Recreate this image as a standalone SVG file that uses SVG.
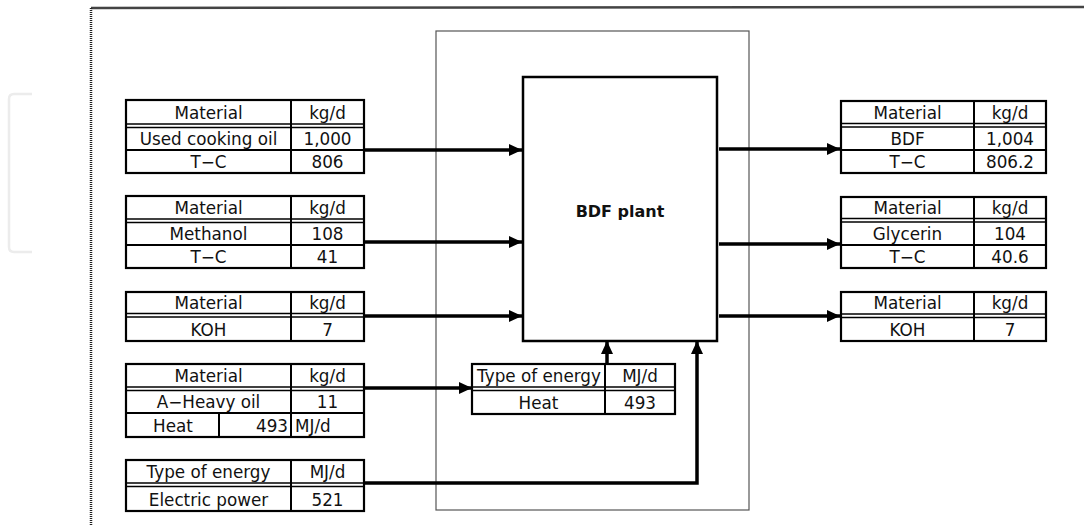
<svg xmlns="http://www.w3.org/2000/svg" width="1084" height="526" viewBox="0 0 1084 526">
<style>
  .bg{fill:#fff}
  .tb{fill:#fff;stroke:#000;stroke-width:2.2}
  .ln{stroke:#000;stroke-width:2}
  .dl{stroke:#000;stroke-width:1.3}
  .t{font-family:"DejaVu Sans","Liberation Sans",sans-serif;font-size:16.8px;fill:#111;text-anchor:middle}
  .conn{stroke:#000;stroke-width:3.5;fill:none}
</style>
<defs>
  <marker id="ah" markerUnits="userSpaceOnUse" markerWidth="14" markerHeight="12" refX="13" refY="6" orient="auto">
    <path d="M0,0 L13,6 L0,12 z" fill="#000"/>
  </marker>
</defs>
<rect class="bg" x="0" y="0" width="1084" height="526"/>

<!-- frame decorations -->
<g id="frame">
  <path d="M32,94 L14,94 Q9,94 9,99 L9,247 Q9,252 14,252 L32,252" fill="none" stroke="#ececec" stroke-width="2.5"/>
  <line x1="91" y1="8" x2="1084" y2="7" stroke="#444" stroke-width="2.5"/>
  <line x1="91" y1="8" x2="91" y2="526" stroke="#222" stroke-width="2.5" stroke-dasharray="1 1"/>
  <rect x="436" y="31" width="313" height="479" fill="none" stroke="#555" stroke-width="1.2"/>
</g>

<!-- plant -->
<g id="plant">
  <rect x="523" y="77" width="194" height="264" fill="#fff" stroke="#000" stroke-width="2.5"/>
  <text x="620" y="217" font-family="DejaVu Sans, Liberation Sans, sans-serif" font-size="16" font-weight="bold" fill="#111" text-anchor="middle">BDF plant</text>
</g>

<!-- connectors -->
<g id="connectors">
  <line class="conn" x1="364" y1="150" x2="522" y2="150" marker-end="url(#ah)"/>
  <line class="conn" x1="364" y1="242" x2="522" y2="242" marker-end="url(#ah)"/>
  <line class="conn" x1="364" y1="316" x2="522" y2="316" marker-end="url(#ah)"/>
  <line class="conn" x1="364" y1="388" x2="472" y2="388" marker-end="url(#ah)"/>
  <line class="conn" x1="607" y1="364" x2="607" y2="341" marker-end="url(#ah)"/>
  <polyline class="conn" points="364,483 697,483 697,341" marker-end="url(#ah)"/>
  <line class="conn" x1="719" y1="149" x2="840" y2="149" marker-end="url(#ah)"/>
  <line class="conn" x1="719" y1="244" x2="840" y2="244" marker-end="url(#ah)"/>
  <line class="conn" x1="719" y1="316" x2="840" y2="316" marker-end="url(#ah)"/>
</g>

<!-- left table 1 -->
<g id="in-oil">
  <rect class="tb" x="126" y="100" width="238" height="73"/>
  <line class="dl" x1="126" y1="124" x2="364" y2="124"/>
  <line class="dl" x1="126" y1="127.5" x2="364" y2="127.5"/>
  <line class="ln" x1="126" y1="150" x2="364" y2="150"/>
  <line class="ln" x1="291" y1="100" x2="291" y2="173"/>
  <text class="t" x="208.5" y="119">Material</text><text class="t" x="327.5" y="119">kg/d</text>
  <text class="t" x="208.5" y="145">Used cooking oil</text><text class="t" x="327.5" y="145">1,000</text>
  <text class="t" x="208.5" y="168">T−C</text><text class="t" x="327.5" y="168">806</text>
</g>

<!-- left table 2 -->
<g id="in-methanol">
  <rect class="tb" x="126" y="196" width="238" height="72"/>
  <line class="dl" x1="126" y1="219" x2="364" y2="219"/>
  <line class="dl" x1="126" y1="222.5" x2="364" y2="222.5"/>
  <line class="ln" x1="126" y1="245" x2="364" y2="245"/>
  <line class="ln" x1="291" y1="196" x2="291" y2="268"/>
  <text class="t" x="208.5" y="214">Material</text><text class="t" x="327.5" y="214">kg/d</text>
  <text class="t" x="208.5" y="240">Methanol</text><text class="t" x="327.5" y="240">108</text>
  <text class="t" x="208.5" y="263">T−C</text><text class="t" x="327.5" y="263">41</text>
</g>

<!-- left table 3 -->
<g id="in-koh">
  <rect class="tb" x="126" y="292" width="238" height="49"/>
  <line class="dl" x1="126" y1="313.5" x2="364" y2="313.5"/>
  <line class="dl" x1="126" y1="317" x2="364" y2="317"/>
  <line class="ln" x1="291" y1="292" x2="291" y2="341"/>
  <text class="t" x="208.5" y="309">Material</text><text class="t" x="327.5" y="309">kg/d</text>
  <text class="t" x="208.5" y="336">KOH</text><text class="t" x="327.5" y="336">7</text>
</g>

<!-- left table 4 -->
<g id="in-heavy-oil">
  <rect class="tb" x="126" y="364" width="238" height="73"/>
  <line class="dl" x1="126" y1="387" x2="364" y2="387"/>
  <line class="dl" x1="126" y1="390.5" x2="364" y2="390.5"/>
  <line class="ln" x1="126" y1="413" x2="364" y2="413"/>
  <line class="ln" x1="291" y1="364" x2="291" y2="437"/>
  <line class="ln" x1="219" y1="413" x2="219" y2="437"/>
  <text class="t" x="208.5" y="382">Material</text><text class="t" x="327.5" y="382">kg/d</text>
  <text class="t" x="208.5" y="408">A−Heavy oil</text><text class="t" x="327.5" y="408">11</text>
  <text class="t" x="173" y="432">Heat</text>
  <text class="t" x="288" y="432" style="text-anchor:end">493</text>
  <text class="t" x="295" y="432" style="text-anchor:start">MJ/d</text>
</g>

<!-- left table 5 -->
<g id="in-electric">
  <rect class="tb" x="126" y="460" width="238" height="51"/>
  <line class="dl" x1="126" y1="483" x2="364" y2="483"/>
  <line class="dl" x1="126" y1="486.5" x2="364" y2="486.5"/>
  <line class="ln" x1="291" y1="460" x2="291" y2="511"/>
  <text class="t" x="208.5" y="478">Type of energy</text><text class="t" x="327.5" y="478">MJ/d</text>
  <text class="t" x="208.5" y="506">Electric power</text><text class="t" x="327.5" y="506">521</text>
</g>

<!-- middle table -->
<g id="mid-heat">
  <rect class="tb" x="472" y="364" width="203" height="50"/>
  <line class="dl" x1="472" y1="387" x2="675" y2="387"/>
  <line class="dl" x1="472" y1="390.5" x2="675" y2="390.5"/>
  <line class="ln" x1="605" y1="364" x2="605" y2="414"/>
  <text class="t" x="539" y="382">Type of energy</text><text class="t" x="640" y="382">MJ/d</text>
  <text class="t" x="538.5" y="409">Heat</text><text class="t" x="640" y="409">493</text>
</g>

<!-- right table 1 -->
<g id="out-bdf">
  <rect class="tb" x="841" y="101" width="205" height="72"/>
  <line class="dl" x1="841" y1="123.5" x2="1046" y2="123.5"/>
  <line class="dl" x1="841" y1="127" x2="1046" y2="127"/>
  <line class="ln" x1="841" y1="150" x2="1046" y2="150"/>
  <line class="ln" x1="974" y1="101" x2="974" y2="173"/>
  <text class="t" x="907.5" y="119">Material</text><text class="t" x="1010" y="119">kg/d</text>
  <text class="t" x="907.5" y="145">BDF</text><text class="t" x="1010" y="145">1,004</text>
  <text class="t" x="907.5" y="168">T−C</text><text class="t" x="1010" y="168">806.2</text>
</g>

<!-- right table 2 -->
<g id="out-glycerin">
  <rect class="tb" x="841" y="197" width="205" height="71"/>
  <line class="dl" x1="841" y1="218.5" x2="1046" y2="218.5"/>
  <line class="dl" x1="841" y1="222" x2="1046" y2="222"/>
  <line class="ln" x1="841" y1="245" x2="1046" y2="245"/>
  <line class="ln" x1="974" y1="197" x2="974" y2="268"/>
  <text class="t" x="907.5" y="214">Material</text><text class="t" x="1010" y="214">kg/d</text>
  <text class="t" x="907.5" y="240">Glycerin</text><text class="t" x="1010" y="240">104</text>
  <text class="t" x="907.5" y="263">T−C</text><text class="t" x="1010" y="263">40.6</text>
</g>

<!-- right table 3 -->
<g id="out-koh">
  <rect class="tb" x="841" y="292" width="205" height="49"/>
  <line class="dl" x1="841" y1="314" x2="1046" y2="314"/>
  <line class="dl" x1="841" y1="317.5" x2="1046" y2="317.5"/>
  <line class="ln" x1="974" y1="292" x2="974" y2="341"/>
  <text class="t" x="907.5" y="309">Material</text><text class="t" x="1010" y="309">kg/d</text>
  <text class="t" x="907.5" y="336">KOH</text><text class="t" x="1010" y="336">7</text>
</g>
</svg>
